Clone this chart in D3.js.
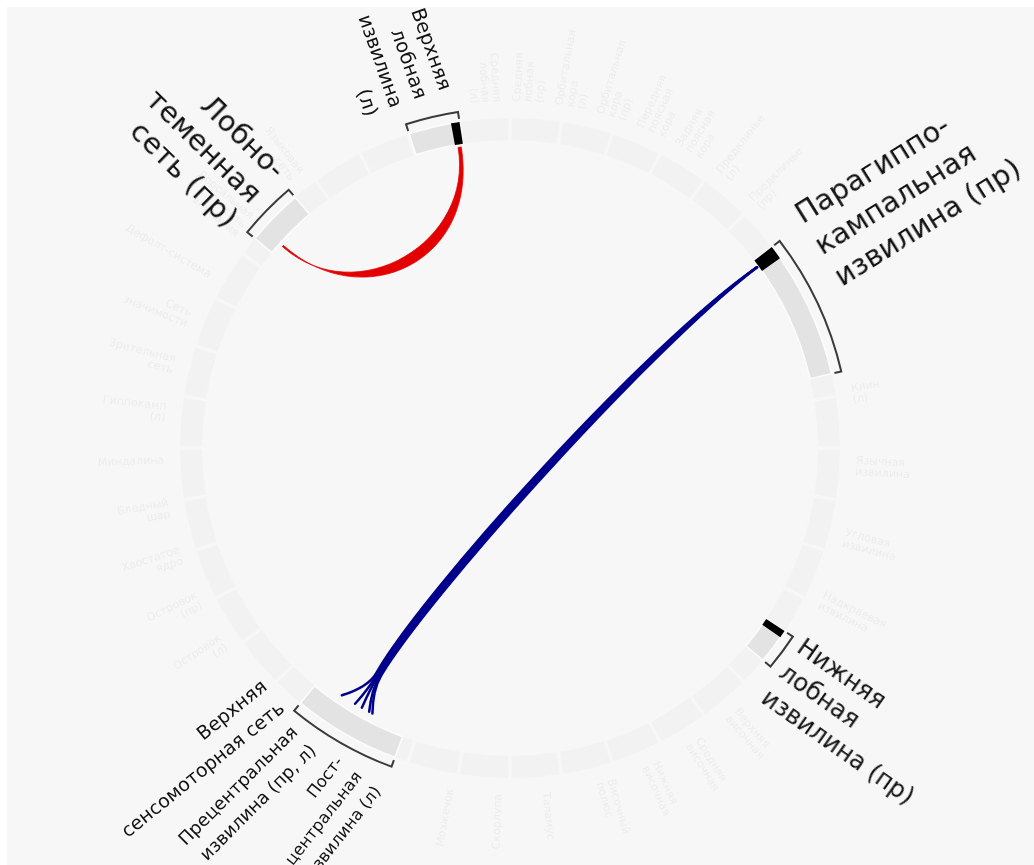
<!DOCTYPE html>
<html>
<head>
<meta charset="utf-8">
<script src="https://cdn.jsdelivr.net/npm/d3@7"></script>
<style>
  body { margin: 0; background: #fff; }
  svg { display: block; font-family: "DejaVu Sans", sans-serif; }
</style>
</head>
<body>
<svg id="chart"></svg>
<script>
// Chart size and circle geometry
const width = 1034;
const height = 865;
const cx = 510, cy = 448;
const rIn = 308, rOut = 330, rBracket = 340, rLink = 305;

// Highlighted regions (angles in degrees, clockwise from 12 o'clock)
const regionNames = [
    "Верхняя лобная извилина (л)",
    "Лобно-теменная сеть (пр)",
    "Парагиппокампальная извилина (пр)",
    "Нижняя лобная извилина (пр)",
    "Верхняя сенсомоторная сеть"
];
const regionStart = [-17.8, -50.6, 52.5, 123.7, 200.4];
const regionEnd = [-8.8, -40.6, 77.0, 130.0, 219.4];
// black hub tick inside a region (null = none)
const hubStart = [-10.3, null, 52.5, 123.7, null];
const hubEnd = [-8.8, null, 54.9, 125.0, null];

// Labels
const labelLines = [
    ["Верхняя", "лобная", "извилина", "(л)"],
    ["Лобно-", "теменная", "сеть (пр)"],
    ["Парагиппо-", "кампальная", "извилина (пр)"],
    ["Нижняя", "лобная", "извилина (пр)"],
    ["Верхняя", "сенсомоторная сеть"],
    ["Прецентральная", "извилина (пр, л)"],
    ["Пост-", "центральная", "извилина (л)"]
];

// Connections
const redSourceAngle = -48.5;   // Лобно-теменная сеть (пр)
const redTargetAngle = -9.5;    // Верхняя лобная извилина (л)
const blueSourceAngle = 53.8;   // Парагиппокампальная извилина (пр)
const blueTargetAngles = [214.2, 211.2, 209.7, 208.1, 207.4]; // сенсомоторная сеть

// Faded (non-highlighted) regions of the full atlas
const ghostNames = [
    "Средняя лобная (л)", "Средняя лобная (пр)", "Орбитальная кора (л)", "Орбитальная кора (пр)",
    "Передняя поясная кора", "Задняя поясная кора", "Предклинье (л)", "Предклинье (пр)",
    "Клин (л)", "Язычная извилина", "Угловая извилина", "Надкраевая извилина",
    "Верхняя височная", "Средняя височная", "Нижняя височная", "Височный полюс",
    "Таламус", "Скорлупа", "Мозжечок",
    "Островок (л)", "Островок (пр)", "Хвостатое ядро", "Бледный шар", "Миндалина",
    "Гиппокамп (л)", "Зрительная сеть", "Сеть значимости", "Дефолт-система",
    "Дорсальная сеть внимания", "Языковая сеть"
];
const ghostAngles = [
    -4, 3, 10, 17, 24, 31, 38, 45,
    81, 93, 105, 116,
    140, 148, 156, 164, 174, 182, 190,
    236, 244, 252, 260, 268, 276, 284, 292, 300, 310, 322
];

// layout of the label blocks
const labelLayout = [
    { angle: -16.3, r: 360, rot: -19.5, size: 19.5, lh: 26 },
    { angle: -45.3, r: 356, rot: -45.6, size: 29, lh: 34 },
    { angle: 56.8, r: 367, rot: 58.0, size: 29, lh: 37 },
    { angle: 129.0, r: 351, rot: 125.2, size: 24.5, lh: 31 },
    { angle: 224.0, r: 342, rot: 231.0, size: 19, lh: 28 },
    { angle: 215.5, r: 356, rot: 225.0, size: 18, lh: 26 },
    { angle: 205.0, r: 359, rot: 218.0, size: 16.5, lh: 24 }
];

const angle = d3.scaleLinear().domain([0, 360]).range([0, 2 * Math.PI]);
const polar = (deg, r) => [cx + r * Math.sin(angle(deg)), cy - r * Math.cos(angle(deg))];

const svg = d3.select("#chart")
    .attr("width", width)
    .attr("height", height);

const defs = svg.append("defs");
defs.append("filter").attr("id", "soft")
    .append("feGaussianBlur").attr("stdDeviation", 0.7);

svg.append("rect")
    .attr("x", 7).attr("y", 7)
    .attr("width", width - 7).attr("height", height - 7)
    .attr("fill", "#f7f7f7");

const g = svg.append("g");

// Faded ring of all regions
const arc = d3.arc();
const ghostArcs = d3.range(0, 360, 9).map(a => ({ start: a + 0.3, end: a + 8.7 }));
g.append("g").selectAll("path")
    .data(ghostArcs)
    .join("path")
    .attr("transform", `translate(${cx},${cy})`)
    .attr("d", d => arc({ innerRadius: rIn, outerRadius: rOut, startAngle: angle(d.start), endAngle: angle(d.end) }))
    .attr("fill", "#f2f2f2");

// Rotated multi-line label block anchored on the circle
function placeLabel(sel, deg, r, rot, lines, size, lh) {
    const right = ((rot % 360) + 360) % 360 < 180;
    const [x, y] = polar(deg, r);
    const phi = right ? rot - 90 : rot + 90;
    const t = sel.append("text")
        .attr("transform", `translate(${x},${y}) rotate(${phi})`)
        .attr("text-anchor", right ? "start" : "end")
        .attr("font-size", size);
    lines.forEach((line, i) => {
        t.append("tspan")
            .attr("x", 0)
            .attr("y", (i - (lines.length - 1) / 2) * lh)
            .attr("dominant-baseline", "central")
            .text(line);
    });
    return t;
}

// Faded labels
const ghostG = g.append("g").attr("fill", "#ececec").attr("filter", "url(#soft)");
ghostNames.forEach((name, i) => {
    placeLabel(ghostG, ghostAngles[i], 346, ghostAngles[i], name.split(" "), 11, 11.5);
});

// Highlighted region blocks
const blocks = g.append("g");
regionNames.forEach((name, i) => {
    blocks.append("path")
        .attr("transform", `translate(${cx},${cy})`)
        .attr("d", arc({ innerRadius: rIn, outerRadius: rOut, startAngle: angle(regionStart[i]), endAngle: angle(regionEnd[i]) }))
        .attr("fill", "#e3e3e3")
        .attr("stroke", "#fcfcfc")
        .attr("stroke-width", 1.5);
    if (hubStart[i] !== null) {
        blocks.append("path")
            .attr("transform", `translate(${cx},${cy})`)
            .attr("d", arc({ innerRadius: rIn, outerRadius: rOut, startAngle: angle(hubStart[i]), endAngle: angle(hubEnd[i]) }))
            .attr("fill", "#000");
    }
    // bracket outside the block
    const p = d3.path();
    const a0 = angle(regionStart[i]) - Math.PI / 2, a1 = angle(regionEnd[i]) - Math.PI / 2;
    p.moveTo(cx + (rBracket - 7) * Math.cos(a0), cy + (rBracket - 7) * Math.sin(a0));
    p.lineTo(cx + rBracket * Math.cos(a0), cy + rBracket * Math.sin(a0));
    p.arc(cx, cy, rBracket, a0, a1);
    p.lineTo(cx + (rBracket - 7) * Math.cos(a1), cy + (rBracket - 7) * Math.sin(a1));
    blocks.append("path")
        .attr("d", p.toString())
        .attr("fill", "none")
        .attr("stroke", "#3a3a3a")
        .attr("stroke-width", 2);
});

// Red connection: crescent ribbon between two cubic curves
function cubic(p, a0, a1, r1, rho0, rho1) {
    const c1 = polar(a0, rho0 * rIn), c2 = polar(a1, rho1 * rIn), e = polar(a1, r1);
    p.bezierCurveTo(c1[0], c1[1], c2[0], c2[1], e[0], e[1]);
    return p;
}
{
    const p = d3.path();
    const s = polar(redTargetAngle - 0.3, rLink);
    p.moveTo(s[0], s[1]);
    cubic(p, redTargetAngle - 0.3, redSourceAngle, rLink - 1, 0.68, 0.665);
    const s2 = polar(redSourceAngle + 0.3, rLink - 1);
    p.lineTo(s2[0], s2[1]);
    cubic(p, redSourceAngle + 0.3, redTargetAngle + 0.3, rLink, 0.64, 0.615);
    p.closePath();
    g.append("path")
        .attr("d", p.toString())
        .attr("fill", "#e30000")
        .attr("stroke", "#e30000")
        .attr("stroke-width", 0.8);
}

// Blue connections: shared trunk, fanning out near the target region
{
    const meanT = d3.mean(blueTargetAngles);
    const blue = g.append("g")
        .attr("fill", "none")
        .attr("stroke", "#00008c")
        .attr("stroke-linecap", "round");
    blueTargetAngles.forEach((t, i) => {
        const k = i - (blueTargetAngles.length - 1) / 2;
        const rho = 0.55;
        const s = polar(blueSourceAngle, rLink + 1);
        const c1 = polar(blueSourceAngle + k * 0.6, rho * rIn);
        const c2 = polar(meanT - k * 0.6, rho * rIn);
        const j = polar(meanT - k * 0.3, 0.85 * rIn);
        const dx = j[0] - c2[0], dy = j[1] - c2[1], dl = Math.hypot(dx, dy);
        const q = [j[0] + dx / dl * 16, j[1] + dy / dl * 16];
        const e = polar(t, 299);
        const p = d3.path();
        p.moveTo(s[0], s[1]);
        p.bezierCurveTo(c1[0], c1[1], c2[0], c2[1], j[0], j[1]);
        p.quadraticCurveTo(q[0], q[1], e[0], e[1]);
        blue.append("path")
            .attr("d", p.toString())
            .attr("stroke-width", 2.5);
    });
}

// Labels of highlighted regions
const labels = g.append("g").attr("fill", "#111");
labelLines.forEach((lines, i) => {
    const L = labelLayout[i];
    placeLabel(labels, L.angle, L.r, L.rot, lines, L.size, L.lh);
});
</script>
</body>
</html>
